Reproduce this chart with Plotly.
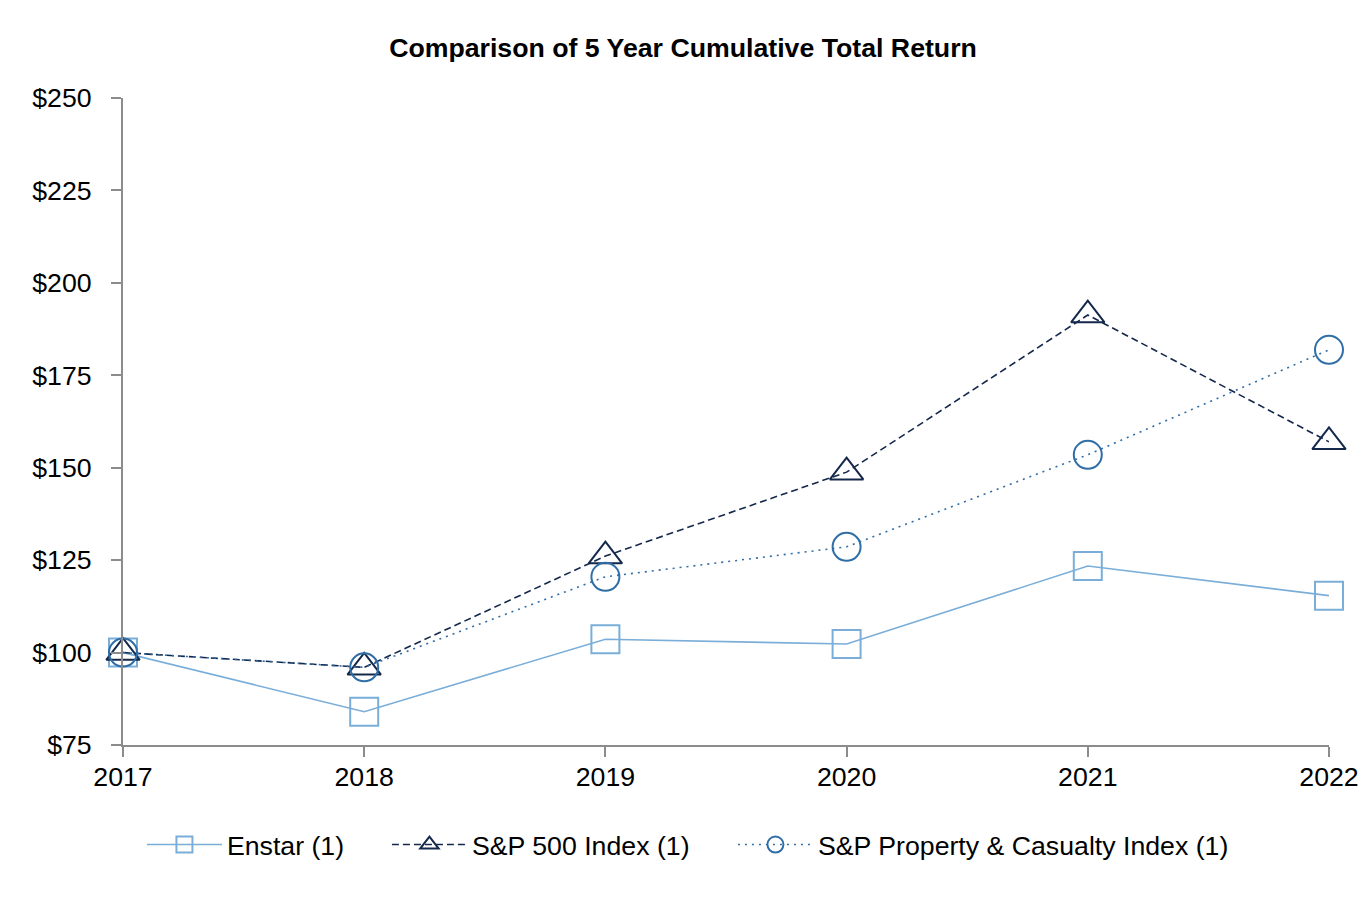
import plotly.graph_objects as go

years = [2017, 2018, 2019, 2020, 2021, 2022]
enstar = [100.0, 84.0, 103.6, 102.3, 123.4, 115.4]
sp500 = [100.0, 96.0, 126.1, 148.8, 191.3, 157.0]
sp_pc = [100.0, 96.0, 120.5, 128.6, 153.5, 181.9]
y_ticks = [75, 100, 125, 150, 175, 200, 225, 250]
y_tick_labels = ["$75", "$100", "$125", "$150", "$175", "$200", "$225", "$250"]

C_ENSTAR = "#7aaed8"
C_SP500 = "#14284b"
C_PC = "#2f6ea6"
FS = 26.7

fig = go.Figure()
fig.add_trace(go.Scatter(
    x=years, y=enstar, name="Enstar (1)", mode="lines+markers", legendwidth=155,
    line=dict(color=C_ENSTAR, width=1.6, dash="solid"),
    marker=dict(symbol="square-open", size=28, color=C_ENSTAR, line=dict(width=2, color=C_ENSTAR)),
))
fig.add_trace(go.Scatter(
    x=years, y=sp500, name="S&P 500 Index (1)", mode="lines+markers", legendwidth=256,
    line=dict(color=C_SP500, width=1.6, dash="7px,4px"),
    marker=dict(symbol="triangle-up-open", size=29, color=C_SP500, line=dict(width=2, color=C_SP500)),
))
fig.add_trace(go.Scatter(
    x=years, y=sp_pc, name="S&P Property & Casualty Index (1)", mode="lines+markers",
    line=dict(color=C_PC, width=1.6, dash="2px,5px"),
    marker=dict(symbol="circle-open", size=28, color=C_PC, line=dict(width=2, color=C_PC)),
))

fig.update_layout(
    width=1350, height=890,
    paper_bgcolor="white", plot_bgcolor="white",
    margin=dict(l=115, r=29, t=90, b=153, autoexpand=False),
    font=dict(family="Liberation Sans, Arial, sans-serif", size=FS, color="black"),
    title=dict(text="<b>Comparison of 5 Year Cumulative Total Return</b>",
               x=0.5, xanchor="center", y=0.956, yanchor="middle",
               font=dict(size=FS, color="black")),
    showlegend=True,
    legend=dict(orientation="h", x=0.0157, xanchor="left", y=-0.117, yanchor="top",
                font=dict(size=FS), itemwidth=75, traceorder="normal"),
    xaxis=dict(range=[2017, 2022], tickmode="array", tickvals=years,
               ticktext=[str(y) for y in years], automargin=False,
               ticklabeloverflow="allow",
               showgrid=False, zeroline=False, showline=True,
               linecolor="#8c8c8c", linewidth=2,
               ticks="outside", ticklen=10, tickwidth=2, tickcolor="#8c8c8c",
               ticklabelstandoff=-3,
               tickfont=dict(size=FS), fixedrange=True),
    yaxis=dict(range=[75, 250], tickmode="array", tickvals=y_ticks, ticktext=y_tick_labels,
               automargin=False, ticklabeloverflow="allow",
               showgrid=False, zeroline=False, showline=True,
               linecolor="#8c8c8c", linewidth=2,
               ticks="outside", ticklen=10, tickwidth=2, tickcolor="#8c8c8c",
               ticklabelstandoff=14,
               tickfont=dict(size=FS), fixedrange=True),
)
for tr in fig.data:
    tr.cliponaxis = False

fig.write_html("out.html")
